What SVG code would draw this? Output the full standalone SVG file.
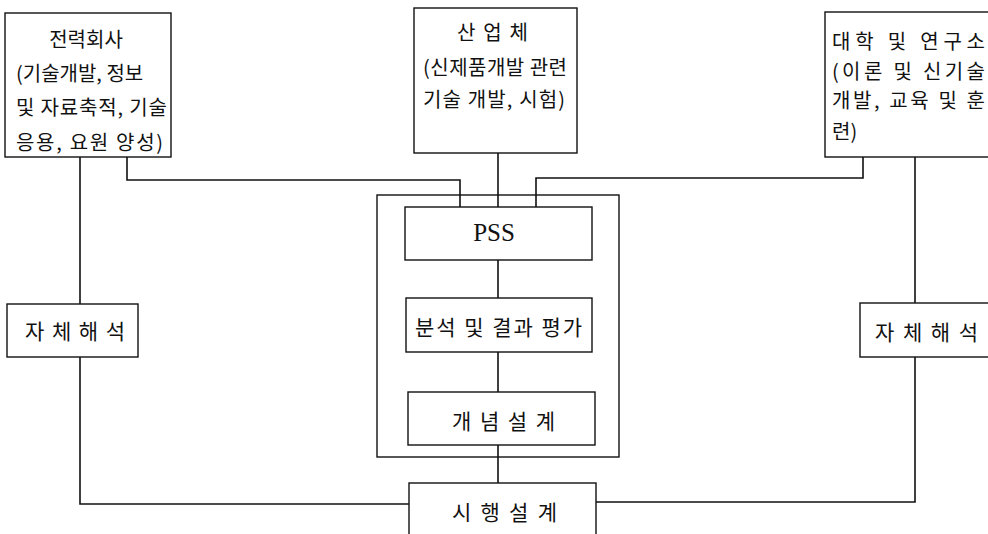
<svg xmlns="http://www.w3.org/2000/svg" width="988" height="534" viewBox="0 0 988 534">
<style>
.box{fill:#fff;stroke:#111;stroke-width:1.4}
.frame{fill:none;stroke:#111;stroke-width:1.4}
.ln{fill:none;stroke:#111;stroke-width:1.6}
.t{font-family:"Noto Sans CJK KR","Noto Sans",sans-serif;font-size:20px;fill:#111}
.l{font-family:"Noto Sans CJK KR","Noto Sans",sans-serif;font-size:21px;fill:#111}
.p{font-family:"Liberation Serif",serif;font-size:25px;fill:#111}
</style>
<rect width="988" height="534" fill="#fff"/>
<g id="container"><rect class="frame" x="377" y="195" width="242" height="262"/></g>
<g id="connectors">
<path class="ln" d="M80,157 V304 M80,357 V504 H409"/>
<path class="ln" d="M127,157 V180 H460 V207"/>
<path class="ln" d="M498,153 V207"/>
<path class="ln" d="M863,157 V178 H536 V207"/>
<path class="ln" d="M915,157 V303 M915,357 V502 H596"/>
<path class="ln" d="M498,260 V298 M498,352 V392 M498,445 V483"/>
</g>
<g id="power-company">
<rect class="box" x="5" y="13" width="166" height="144"/>
<text class="t" x="86" y="47" text-anchor="middle">전력회사</text>
<text class="t" x="16" y="81">(기술개발, 정보</text>
<text class="t" x="16" y="115" textLength="151" lengthAdjust="spacing">및 자료축적, 기술</text>
<text class="t" x="16" y="150" textLength="147" lengthAdjust="spacing">응용, 요원 양성)</text>
</g>
<g id="industry">
<rect class="box" x="414" y="8" width="163" height="145"/>
<text class="t" x="457" y="40" textLength="71" lengthAdjust="spacing">산 업 체</text>
<text class="t" x="423" y="75" textLength="144" lengthAdjust="spacing">(신제품개발 관련</text>
<text class="t" x="423" y="107" textLength="142" lengthAdjust="spacing">기술 개발, 시험)</text>
</g>
<g id="university">
<rect class="box" x="825" y="12" width="170" height="145"/>
<text class="t" x="832" y="49" textLength="153" lengthAdjust="spacing">대학 및 연구소</text>
<text class="t" x="832" y="79" textLength="153" lengthAdjust="spacing">(이론 및 신기술</text>
<text class="t" x="832" y="108" textLength="153" lengthAdjust="spacing">개발, 교육 및 훈</text>
<text class="t" x="832" y="139">련)</text>
</g>
<g id="pss">
<rect class="box" x="405" y="207" width="187" height="53"/>
<text class="p" x="494" y="241" text-anchor="middle">PSS</text>
</g>
<g id="analysis">
<rect class="box" x="406" y="298" width="186" height="54"/>
<text class="l" x="415" y="335" textLength="167" lengthAdjust="spacing">분석 및 결과 평가</text>
</g>
<g id="concept">
<rect class="box" x="408" y="392" width="187" height="53"/>
<text class="l" x="452" y="429" textLength="103" lengthAdjust="spacing">개 념 설 계</text>
</g>
<g id="execution">
<rect class="box" x="409" y="483" width="187" height="60"/>
<text class="l" x="452" y="520" textLength="105" lengthAdjust="spacing">시 행 설 계</text>
</g>
<g id="self-left">
<rect class="box" x="7" y="304" width="131" height="53"/>
<text class="l" x="25" y="339" textLength="100" lengthAdjust="spacing">자 체 해 석</text>
</g>
<g id="self-right">
<rect class="box" x="860" y="303" width="135" height="54"/>
<text class="l" x="875" y="340" textLength="103" lengthAdjust="spacing">자 체 해 석</text>
</g>
</svg>
